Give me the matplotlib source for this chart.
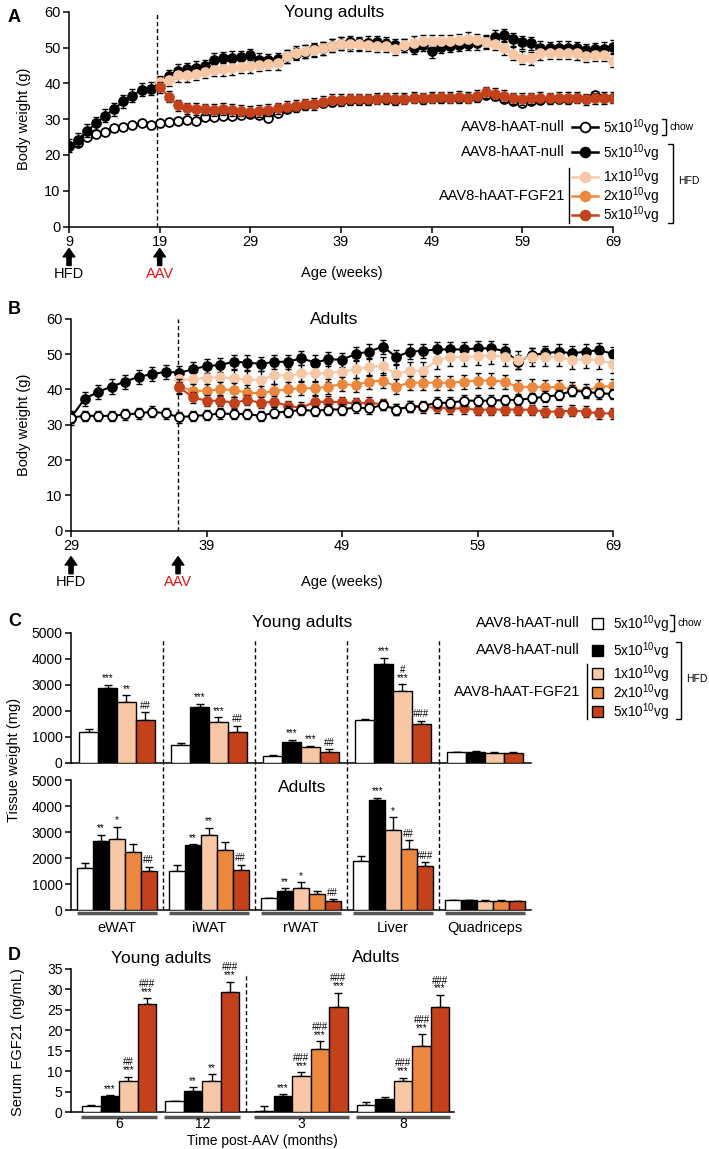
import numpy as np
import matplotlib
matplotlib.use('Agg')
import matplotlib.pyplot as plt
from matplotlib.lines import Line2D
from matplotlib.patches import Rectangle

plt.rcParams['font.family'] = ['Liberation Sans', 'DejaVu Sans']
plt.rcParams['mathtext.default'] = 'regular'
plt.rcParams['font.size'] = 10.5

# ---------------- data ----------------
# panel A: young adults, body weight (g) per week
weeks_a = list(range(9, 70))
weeks_a_aav = list(range(19, 70))
a_chow = [22.6, 23.4, 25.0, 25.8, 26.5, 27.4, 27.8, 28.4, 28.8, 28.4,
          28.8, 29.1, 29.6, 29.8, 29.6, 30.7, 30.7, 31.0, 30.8, 31.2,
          31.4, 31.2, 30.2, 31.8, 32.7, 33.3, 33.8, 34.1, 34.5, 34.8,
          35.0, 35.2, 35.3, 35.2, 35.5, 35.6, 35.4, 35.5, 35.8, 35.6,
          35.8, 36.0, 35.8, 36.0, 35.9, 36.2, 36.8, 36.5, 35.6, 35.0,
          34.6, 35.0, 35.4, 35.5, 35.6, 35.7, 35.8, 35.6, 36.8, 35.8,
          35.9]
a_hfd = [22.6, 24.2, 26.8, 28.8, 31.0, 32.8, 35.0, 36.5, 38.2, 38.5,
         40.0, 42.0, 43.5, 44.0, 44.4, 44.8, 46.6, 47.0, 47.2, 47.3,
         47.8, 46.6, 46.4, 46.8, 47.6, 48.2, 48.8, 49.5, 49.8, 50.5,
         51.0, 51.5, 51.2, 51.3, 51.5, 51.0, 50.6, 50.5, 50.0, 50.8,
         49.0, 50.2, 50.5, 50.8, 51.0, 51.2, 51.4, 53.0, 53.5, 52.3,
         51.5, 51.2, 50.0, 49.8, 50.0, 50.0, 49.8, 49.3, 49.5, 49.7,
         50.2]
a_f1 = [40.3, 41.0, 42.2, 42.3, 42.6, 43.2, 43.7, 43.9, 44.2, 44.6,
        44.7, 45.1, 45.5, 45.6, 47.6, 48.5, 49.0, 49.2, 49.8, 50.5,
        51.0, 50.9, 50.9, 50.7, 50.5, 50.5, 49.6, 50.6, 51.3, 51.7,
        51.7, 51.8, 51.8, 52.0, 52.4, 52.1, 51.6, 51.0, 49.8, 48.3,
        47.2, 47.0, 48.4, 48.5, 48.6, 48.5, 48.4, 47.7, 47.9, 48.0,
        46.3]
a_f5 = [38.9, 36.3, 33.8, 33.0, 32.8, 32.7, 32.6, 32.8, 32.6, 32.4,
        32.1, 32.3, 32.6, 33.0, 33.5, 33.7, 34.1, 34.2, 34.9, 35.3,
        35.3, 35.5, 35.5, 35.5, 35.7, 35.8, 35.6, 35.7, 36.0, 35.8,
        36.0, 36.1, 36.0, 36.2, 36.0, 36.5, 37.5, 37.0, 36.5, 35.8,
        35.6, 35.8, 36.0, 35.8, 36.0, 35.9, 36.0, 35.5, 35.8, 35.9,
        36.0]
a_err_chow, a_err_hfd, a_err_f1, a_err_f5 = 0.8, 1.8, 1.8, 1.6

# panel B: adults
weeks_b = list(range(29, 70))
weeks_b_aav = list(range(37, 70))
b_chow = [32.0, 32.5, 32.5, 32.5, 32.9, 33.2, 33.7, 33.2, 32.1, 32.5,
          32.7, 33.2, 33.0, 33.0, 32.5, 33.4, 33.7, 34.2, 33.9, 34.3,
          34.3, 34.9, 34.6, 35.6, 34.3, 35.1, 35.3, 36.2, 36.2, 36.8,
          36.8, 36.8, 37.0, 37.0, 37.5, 37.9, 38.4, 39.6, 39.3, 38.9,
          38.7]
b_hfd = [32.0, 37.3, 39.3, 40.8, 42.2, 43.6, 44.3, 45.0, 44.7, 45.7,
         46.6, 46.9, 47.8, 47.6, 47.2, 47.8, 47.8, 48.8, 47.6, 48.5,
         48.4, 50.0, 50.7, 52.1, 49.2, 50.7, 50.9, 51.3, 51.3, 51.3,
         51.6, 51.6, 50.9, 47.8, 49.7, 50.2, 50.7, 50.2, 50.7, 51.1,
         50.0]
b_f1 = [42.8, 42.8, 43.3, 43.4, 43.1, 42.8, 42.6, 44.1, 43.8, 44.5,
        44.5, 44.7, 45.0, 45.7, 46.4, 46.6, 44.3, 45.3, 45.3, 48.3,
        49.1, 49.2, 49.4, 49.7, 49.2, 48.3, 49.2, 49.2, 49.1, 48.3,
        48.5, 48.3, 47.2]
b_f2 = [40.8, 39.6, 39.6, 40.0, 39.8, 39.1, 38.9, 39.6, 40.0, 40.3,
        40.3, 40.8, 41.5, 41.2, 42.2, 42.5, 40.8, 41.9, 41.9, 41.9,
        41.9, 42.2, 42.5, 42.5, 42.2, 40.6, 40.8, 40.6, 40.6, 40.0,
        39.6, 40.8, 40.9]
b_f5 = [40.6, 37.7, 36.8, 36.8, 36.2, 37.0, 36.2, 36.5, 35.3, 34.8,
        36.5, 36.5, 36.4, 36.0, 36.2, 35.8, 34.3, 35.1, 34.9, 34.9,
        34.6, 34.6, 34.2, 34.3, 34.3, 34.3, 34.2, 33.7, 33.7, 34.0,
        33.7, 33.2, 33.2]
b_err_chow, b_err_hfd, b_err_f1, b_err_f2, b_err_f5 = 1.5, 2.0, 2.5, 2.0, 1.5

# panel C: tissue weight (mg)
tissues = ['eWAT', 'iWAT', 'rWAT', 'Liver', 'Quadriceps']
# young adults: chow, HFD null, 1x, 5x
c_young = [[1200, 2900, 2350, 1650],
           [680, 2150, 1580, 1180],
           [270, 810, 600, 430],
           [1650, 3800, 2780, 1500],
           [420, 430, 400, 400]]
c_young_err = [[100, 100, 250, 300],
               [80, 120, 180, 250],
               [40, 90, 50, 100],
               [60, 250, 250, 120],
               [20, 25, 20, 20]]
c_young_sig = [['', '***', '**', '##'],
               ['', '***', '***', '##'],
               ['', '***', '***', '##'],
               ['', '***', '#\n***', '###'],
               ['', '', '', '']]
# adults: chow, HFD null, 1x, 2x, 5x
c_adult = [[1600, 2650, 2750, 2230, 1500],
           [1500, 2500, 2870, 2300, 1550],
           [450, 750, 850, 620, 360],
           [1880, 4230, 3080, 2330, 1680],
           [370, 370, 360, 360, 350]]
c_adult_err = [[200, 230, 450, 300, 170],
               [230, 30, 280, 300, 200],
               [30, 80, 220, 100, 50],
               [180, 90, 480, 350, 150],
               [15, 15, 15, 15, 15]]
c_adult_sig = [['', '**', '*', '', '##'],
               ['', '**', '**', '', '##'],
               ['', '**', '*', '', '##'],
               ['', '***', '*', '##', '###'],
               ['', '', '', '', '']]

# panel D: serum FGF21 (ng/mL)
d_labels = ['6', '12', '3', '8']
d_vals = [[1.5, 4.0, 7.7, 26.5],
          [2.6, 5.2, 7.6, 29.4],
          [0.3, 3.8, 8.8, 15.4, 25.8],
          [1.8, 3.1, 7.7, 16.2, 25.6]]
d_err = [[0.3, 0.1, 0.9, 1.3],
         [0.2, 0.8, 1.6, 2.5],
         [1.1, 0.5, 0.9, 1.9, 3.4],
         [0.7, 0.6, 0.6, 2.8, 3.0]]
d_sig = [['', '***', '##\n***', '###\n***'],
         ['', '**', '**', '###\n***'],
         ['', '***', '###\n***', '###\n***', '###\n***'],
         ['', '', '###\n***', '###\n***', '###\n***']]

# ---------------- style ----------------
WHITE, BLACK = 'white', 'black'
LIGHT, ORANGE, RED = '#F8C8A6', '#EC883D', '#C4421B'
young_colors = [WHITE, BLACK, LIGHT, RED]
adult_colors = [WHITE, BLACK, LIGHT, ORANGE, RED]

W, H = 709, 1149
fig = plt.figure(figsize=(W / 100, H / 100), dpi=100)


def rect(l, t, r, b):
    return [l / W, 1 - b / H, (r - l) / W, (b - t) / H]


def style_axes(ax):
    for s in ['top', 'right']:
        ax.spines[s].set_visible(False)
    for s in ['left', 'bottom']:
        ax.spines[s].set_linewidth(1.1)
    ax.tick_params(direction='out', length=4, width=1.1, labelsize=10.5, pad=2)


# overlay in pixel coordinates for legends and free text
ov = fig.add_axes([0, 0, 1, 1], zorder=10)
ov.set_xlim(0, W)
ov.set_ylim(H, 0)
ov.axis('off')


def series(ax, x, y, err, color, mfc, z):
    ax.errorbar(x, y, yerr=err, fmt='none', ecolor='black', elinewidth=1,
                capsize=2.5, capthick=1, zorder=z)
    ax.plot(x, y, '-o', color=color if color != WHITE else 'black', lw=1.5,
            ms=6.4, mfc=mfc, mec=color if color != WHITE else 'black',
            mew=1.3, zorder=z + 0.5)


def arrow_label(ax, x, text, color, ax_h, off_top, off_bot, off_txt):
    ax.annotate('', xy=(x, -off_top / ax_h), xytext=(x, -off_bot / ax_h),
                xycoords=('data', 'axes fraction'),
                textcoords=('data', 'axes fraction'),
                arrowprops=dict(arrowstyle='simple,head_width=0.7,head_length=0.5,tail_width=0.25',
                                color='black', mutation_scale=12, shrinkA=0, shrinkB=0),
                annotation_clip=False)
    ax.text(x, -off_txt / ax_h, text, transform=ax.get_xaxis_transform(),
            ha='center', va='center', color=color, fontsize=10.5)


# ---------------- panel A ----------------
axA = fig.add_axes(rect(69, 11.7, 613, 226.5))
style_axes(axA)
axA.set_xlim(9, 69)
axA.set_ylim(0, 60)
axA.set_xticks(range(9, 70, 10))
axA.set_yticks(range(0, 61, 10))
axA.axvline(18.7, color='black', ls=(0, (3, 2)), lw=1)
series(axA, weeks_a, a_chow, a_err_chow, WHITE, 'white', 2)
series(axA, weeks_a, a_hfd, a_err_hfd, BLACK, BLACK, 3)
series(axA, weeks_a_aav, a_f1, a_err_f1, LIGHT, LIGHT, 4)
series(axA, weeks_a_aav, a_f5, a_err_f5, RED, RED, 5)
hA = 226.5 - 11.7
arrow_label(axA, 9, 'HFD', 'black', hA, 22, 39, 47)
arrow_label(axA, 19, 'AAV', '#E3131B', hA, 22, 39, 47)
ov.text(342, 273.5, 'Age (weeks)', ha='center', va='center')
ov.text(24, 119, 'Body weight (g)', rotation=90, ha='center', va='center')
ov.text(334, 12, 'Young adults', ha='center', va='center', fontsize=12.5)
ov.text(8, 18, 'A', ha='left', va='center', fontsize=13, fontweight='bold')

# ---------------- panel B ----------------
axB = fig.add_axes(rect(71, 318.7, 613, 530.7))
style_axes(axB)
axB.set_xlim(29, 69)
axB.set_ylim(0, 60)
axB.set_xticks(range(29, 70, 10))
axB.set_yticks(range(0, 61, 10))
axB.axvline(36.9, color='black', ls=(0, (3, 2)), lw=1)
series(axB, weeks_b, b_chow, b_err_chow, WHITE, 'white', 6)
series(axB, weeks_b, b_hfd, b_err_hfd, BLACK, BLACK, 3)
series(axB, weeks_b_aav, b_f1, b_err_f1, LIGHT, LIGHT, 4)
series(axB, weeks_b_aav, b_f2, b_err_f2, ORANGE, ORANGE, 4.5)
series(axB, weeks_b_aav, b_f5, b_err_f5, RED, RED, 5)
hB = 530.7 - 318.7
arrow_label(axB, 29, 'HFD', 'black', hB, 26, 43, 51)
arrow_label(axB, 36.9, 'AAV', '#E3131B', hB, 26, 43, 51)
ov.text(342, 582, 'Age (weeks)', ha='center', va='center')
ov.text(24, 425, 'Body weight (g)', rotation=90, ha='center', va='center')
ov.text(334, 320, 'Adults', ha='center', va='center', fontsize=12.5)
ov.text(8, 310, 'B', ha='left', va='center', fontsize=13, fontweight='bold')


# ---------------- legends ----------------
def brackets(rows, left_text_x, line_x0, line_x1, lab_x, chow_x, hfd_x,
             fgf_bar_x, kind):
    labels = ['5x10$^{10}$vg', '5x10$^{10}$vg', '1x10$^{10}$vg', '2x10$^{10}$vg', '5x10$^{10}$vg']
    cols = [WHITE, BLACK, LIGHT, ORANGE, RED]
    for i, (yy, lab, c) in enumerate(zip(rows, labels, cols)):
        if kind == 'line':
            lc = 'black' if c == WHITE else c
            ov.add_line(Line2D([line_x0, line_x1], [yy, yy], color=lc, lw=1.8))
            ov.plot([(line_x0 + line_x1) / 2], [yy], 'o', ms=7, mfc=c, mec=lc, mew=1.3)
        else:
            s = line_x1 - line_x0
            ov.add_patch(Rectangle((line_x0, yy - s / 2), s, s, fc=c, ec='black', lw=1))
        ov.text(lab_x, yy + 1, lab, ha='left', va='center', fontsize=9.8)
    ov.text(left_text_x, rows[0], 'AAV8-hAAT-null', ha='right', va='center')
    ov.text(left_text_x, rows[1], 'AAV8-hAAT-null', ha='right', va='center')
    ov.text(left_text_x, rows[3], 'AAV8-hAAT-FGF21', ha='right', va='center')
    # chow bracket
    ov.plot([chow_x - 4, chow_x, chow_x, chow_x - 4],
            [rows[0] - 8, rows[0] - 8, rows[0] + 8, rows[0] + 8], color='black', lw=1)
    ov.text(chow_x + 4, rows[0], 'chow', ha='left', va='center', fontsize=7.5)
    # HFD bracket
    ov.plot([hfd_x - 5, hfd_x, hfd_x, hfd_x - 5],
            [rows[1] - 8, rows[1] - 8, rows[4] + 8, rows[4] + 8], color='black', lw=1)
    ov.text(hfd_x + 5, (rows[1] + rows[4]) / 2 - 2, 'HFD', ha='left', va='center', fontsize=7.5)
    # FGF21 bar
    ov.plot([fgf_bar_x, fgf_bar_x], [rows[2] - 9, rows[4] + 8], color='black', lw=1)


brackets([127, 152, 176.5, 195.5, 214.5], 565, 572, 598, 603, 666, 673, 569, 'line')
brackets([623, 650, 673, 692, 711], 580, 592, 603, 613, 674, 681, 587, 'box')


# ---------------- panel C ----------------
def bar_panel_c(ax, vals, errs, sigs, colors, width):
    n = len(colors)
    for g in range(len(tissues)):
        for j in range(n):
            x = g + 0.5 + (j - (n - 1) / 2) * width
            v, e = vals[g][j], errs[g][j]
            ax.bar(x, v, width=width, color=colors[j], edgecolor='black', lw=1, zorder=3)
            ax.errorbar(x, v, yerr=[[0], [e]], fmt='none', ecolor='black',
                        elinewidth=1, capsize=3, capthick=1, zorder=2)
            if sigs[g][j]:
                ax.text(x, v + e + 60, sigs[g][j], ha='center', va='bottom',
                        fontsize=7, linespacing=0.75)


axCt = fig.add_axes(rect(71, 633, 531, 763))
axCb = fig.add_axes(rect(71, 780, 531, 910))
for ax in (axCt, axCb):
    style_axes(ax)
    ax.set_xlim(0, 5)
    ax.set_ylim(0, 5000)
    ax.set_yticks(range(0, 5001, 1000))
    ax.set_xticks([])
    ax.tick_params(labelsize=10)
for g in range(1, 5):
    axCt.axvline(g, ymin=0, ymax=0.96, color='black', ls=(0, (3, 2)), lw=1)
    axCb.plot([g, g], [0, 5650], color='black', ls=(0, (3, 2)), lw=1, clip_on=False)
bar_panel_c(axCt, c_young, c_young_err, c_young_sig, young_colors, 0.205)
bar_panel_c(axCb, c_adult, c_adult_err, c_adult_sig, adult_colors, 0.172)
hC = 910 - 780
for g, name in enumerate(tissues):
    axCb.plot([g + 0.06, g + 0.94], [-3 / hC * 5000] * 2, color='#555555', lw=2.5,
              clip_on=False, solid_capstyle='butt')
    axCb.text(g + 0.5, -18 / hC, name, transform=axCb.get_xaxis_transform(),
              ha='center', va='center', fontsize=10.5)
ov.text(302, 622, 'Young adults', ha='center', va='center', fontsize=12.5)
ov.text(302, 787, 'Adults', ha='center', va='center', fontsize=12.5)
ov.text(14, 760, 'Tissue weight (mg)', rotation=90, ha='center', va='center')
ov.text(8, 621, 'C', ha='left', va='center', fontsize=13, fontweight='bold')

# ---------------- panel D ----------------
axD = fig.add_axes(rect(71, 969, 454, 1112))
style_axes(axD)
axD.set_xlim(0, 20.7)
axD.set_ylim(0, 35)
axD.set_yticks(range(0, 36, 5))
axD.set_xticks([])
axD.tick_params(labelsize=10)
group_start = [0.6, 5.1, 9.95, 15.45]
hD = 1112 - 969
for g, lab in enumerate(d_labels):
    n = len(d_vals[g])
    cols = young_colors if n == 4 else adult_colors
    for j in range(n):
        x = group_start[g] + 0.5 + j
        v, e = d_vals[g][j], d_err[g][j]
        axD.bar(x, v, width=1, color=cols[j], edgecolor='black', lw=1, zorder=3)
        axD.errorbar(x, v, yerr=[[0], [e]], fmt='none', ecolor='black',
                     elinewidth=1, capsize=3, capthick=1, zorder=2)
        if d_sig[g][j]:
            axD.text(x, v + e + 0.4, d_sig[g][j], ha='center', va='bottom',
                     fontsize=7, linespacing=0.75)
    axD.plot([group_start[g] - 0.05, group_start[g] + n + 0.05], [-5 / hD * 35] * 2,
             color='#555555', lw=2.5, clip_on=False, solid_capstyle='butt')
    axD.text(group_start[g] + n / 2, -12.5 / hD, lab, transform=axD.get_xaxis_transform(),
             ha='center', va='center', fontsize=10)
axD.plot([9.45, 9.45], [0, 34], color='black', ls=(0, (3, 2)), lw=1)
ov.text(262, 1141.5, 'Time post-AAV (months)', ha='center', va='center', fontsize=10)
ov.text(161, 958, 'Young adults', ha='center', va='center', fontsize=12.5)
ov.text(376, 958, 'Adults', ha='center', va='center', fontsize=12.5)
ov.text(18, 1042, 'Serum FGF21 (ng/mL)', rotation=90, ha='center', va='center')
ov.text(8, 956, 'D', ha='left', va='center', fontsize=13, fontweight='bold')

fig.savefig('out.png', dpi=100)
